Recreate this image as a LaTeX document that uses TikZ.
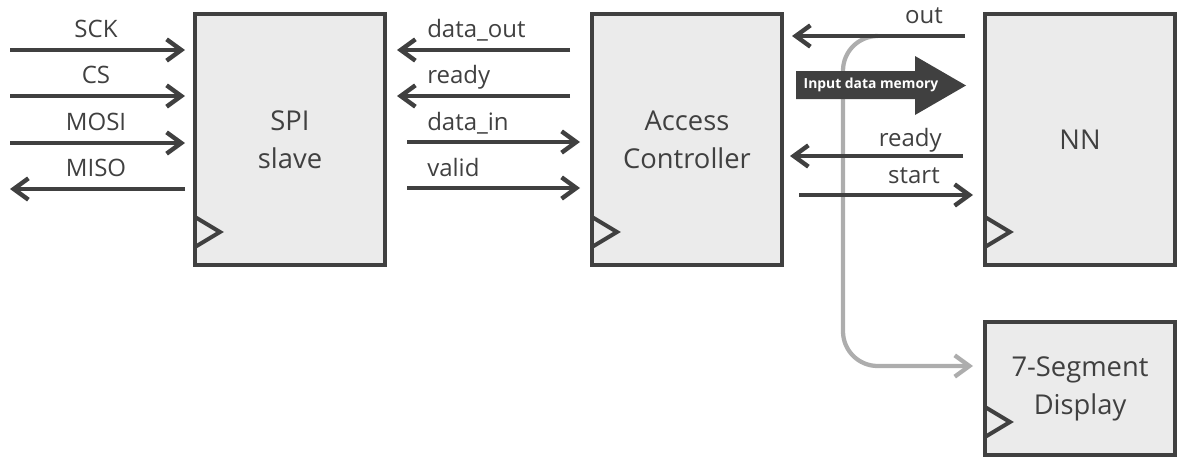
\documentclass[tikz,border=0pt]{standalone}
\usepackage{fontspec}
\setmainfont{Open Sans}
\usetikzlibrary{arrows.meta}
\definecolor{ink}{HTML}{404040}
\definecolor{boxfill}{HTML}{EBEBEB}
\definecolor{wire}{HTML}{ADADAD}
\begin{document}
\begin{tikzpicture}[x=0.75pt,y=-0.75pt,
  block/.style={draw=ink, fill=boxfill, line width=3pt, outer sep=0pt, inner sep=0pt,
    minimum width=142.5pt, align=center, text=ink, font=\fontsize{20.5}{28.5}\selectfont},
  sig/.style={draw=ink, line width=3.3pt, -{Straight Barb[length=11pt,width=16pt]}},
  lbl/.style={text=ink, inner sep=0pt, font=\fontsize{18}{21}\selectfont},
  clk/.style={draw=ink, line width=3pt, line join=miter},
  tap/.style={draw=wire, line width=3.2pt, rounded corners=26pt,
    -{Straight Barb[length=11pt,width=16pt]}}]
\useasboundingbox (0,0) rectangle (1178,457);

% blocks
\node[block, minimum height=188.25pt] (spi) at (290,139.5) {SPI\\slave};
\node[block, minimum height=188.25pt] (ac)  at (687,139.5) {Access\\Controller};
\node[block, minimum height=188.25pt] (nn)  at (1080,139.5) {NN};
\node[block, minimum height=99.75pt]  (seg) at (1080,388.5) {7-Segment\\Display};

% clock inputs
\foreach \b in {spi,ac,nn,seg}
  \draw[clk] ([shift={(0,-48)}]\b.south west) -- ++(25,15) -- ++(-25,15);

% result tap to the display (runs underneath the other signals)
\coordinate (split) at (877,36);
\coordinate (bend)  at (843,366);
\draw[tap, shorten >=9pt] (split) -- (843,36) -- (bend) -- (bend -| seg.west);

% SPI bus side
\coordinate (sck)  at (10,50);
\coordinate (cs)   at (10,96);
\coordinate (mosi) at (10,143);
\coordinate (miso) at (10,189);
\draw[sig, shorten >=7.5pt] (sck)  -- (sck  -| spi.west);
\draw[sig, shorten >=7.5pt] (cs)   -- (cs   -| spi.west);
\draw[sig, shorten >=7.5pt] (mosi) -- (mosi -| spi.west);
\draw[sig, shorten <=7.5pt] (spi.west |- miso) -- (miso);
\node[lbl, anchor=base] (lsck)  at (96,37)  {SCK};
\node[lbl, anchor=base] (lcs)   at (96,83)  {CS};
\node[lbl, anchor=base] (lmosi) at (96,130) {MOSI};
\node[lbl, anchor=base] (lmiso) at (96,176) {MISO};

% SPI slave <-> access controller
\coordinate (r1) at (0,50);
\coordinate (r2) at (0,96);
\coordinate (r3) at (0,142);
\coordinate (r4) at (0,188);
\draw[sig, shorten <=16.5pt, shorten >=9pt] (r1 -| ac.west) -- (r1 -| spi.east);
\draw[sig, shorten <=16.5pt, shorten >=9pt] (r2 -| ac.west) -- (r2 -| spi.east);
\draw[sig, shorten <=16.5pt, shorten >=9pt] (r3 -| spi.east) -- (r3 -| ac.west);
\draw[sig, shorten <=16.5pt, shorten >=9pt] (r4 -| spi.east) -- (r4 -| ac.west);
\node[lbl, anchor=base west] (ldout)  at (427,37)  {data\_out};
\node[lbl, anchor=base west] (lrdy)   at (427,83)  {ready};
\node[lbl, anchor=base west] (ldin)   at (427,130) {data\_in};
\node[lbl, anchor=base west] (lvalid) at (427,176) {valid};

% access controller <-> NN
\coordinate (q1) at (0,36);
\coordinate (q2) at (0,156);
\coordinate (q3) at (0,195);
\draw[sig, shorten <=15pt, shorten >=7.5pt] (q1 -| nn.west) -- (q1 -| ac.east);
\draw[sig, shorten <=16.5pt, shorten >=6pt] (q2 -| nn.west) -- (q2 -| ac.east);
\draw[sig, shorten <=12.75pt, shorten >=9pt] (q3 -| ac.east) -- (q3 -| nn.west);
\node[lbl, anchor=base east] (lout)   at (943,23)  {out};
\node[lbl, anchor=base east] (lrdy2)  at (942,146) {ready};
\node[lbl, anchor=base east] (lstart) at (940,183) {start};

% input data memory transfer
\fill[ink] (796,71) -- (915,71) -- (915,56) -- (966,85.5) -- (915,115)
  -- (915,99) -- (796,99) -- cycle;
\node[text=white, inner sep=0pt, font=\bfseries\fontsize{10.4}{12}\selectfont]
  (mem) at (871,85) {Input data memory};
\end{tikzpicture}
\end{document}
